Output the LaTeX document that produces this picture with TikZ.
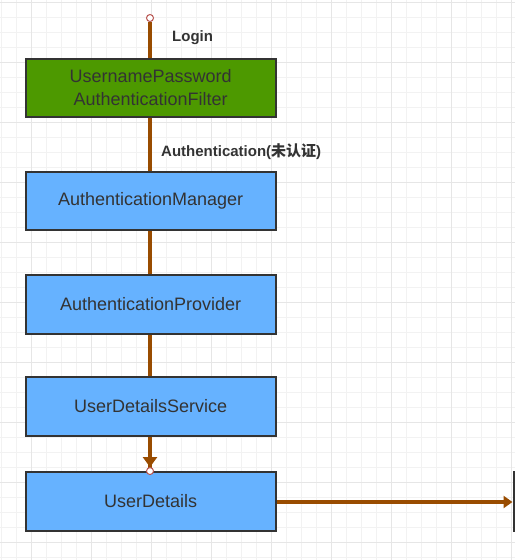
\documentclass[tikz,border=0pt]{standalone}
\usepackage{fontspec}
\setmainfont{Liberation Sans}
\newfontfamily\cjk{Noto Sans CJK SC}
\usetikzlibrary{arrows.meta}
\definecolor{gridminor}{HTML}{F2F2F2}
\definecolor{gridmajor}{HTML}{E6E6E6}
\definecolor{filtergreen}{HTML}{4D9900}
\definecolor{boxblue}{HTML}{66B2FF}
\definecolor{boxborder}{HTML}{333333}
\definecolor{flowbrown}{HTML}{994C00}
\definecolor{endred}{HTML}{B85450}
\begin{document}
\begin{tikzpicture}[x=1pt, y=-1pt,
        box/.style={draw=boxborder, line width=2pt, minimum width=250pt, minimum height=58.5pt,
            inner sep=0pt, align=center, text=boxborder, font=\fontsize{18}{23}\selectfont},
        bluebox/.style={box, fill=boxblue},
        greenbox/.style={box, fill=filtergreen},
        flow/.style={draw=flowbrown, line width=4.5pt},
        lbl/.style={anchor=west, inner sep=0pt, text=boxborder, font=\fontsize{15}{18}\selectfont\bfseries}]
        \useasboundingbox (0,0) rectangle (515,560);

        % grid
        \foreach \gx in {1.7,16.7,...,515} \draw[gridminor, line width=1pt] (\gx,0) -- (\gx,560);
        \foreach \gy in {2,17,...,560} \draw[gridminor, line width=1pt] (0,\gy) -- (515,\gy);
        \foreach \gx in {31.7,91.7,...,515} \draw[gridmajor, line width=1pt] (\gx,0) -- (\gx,560);
        \foreach \gy in {2,62,...,560} \draw[gridmajor, line width=1pt] (0,\gy) -- (515,\gy);

        % nodes
        \node (filter) [greenbox] at (150.7,88) {UsernamePassword\\AuthenticationFilter};
        \node (manager) [bluebox] at (150.7,201.2) {AuthenticationManager};
        \node (provider) [bluebox] at (150.7,304.4) {AuthenticationProvider};
        \node (service) [bluebox] at (150.7,406.4) {UserDetailsService};
        \node (details) [bluebox] at (150.7,501.3) {UserDetails};
        \coordinate (login) at (150,14);
        \coordinate (out) at (512.5,502);

        % edges
        \draw[flow, {Circle[open, length=8pt, width=8pt, color=endred, fill=white, line width=1pt]}-] (login) -- (login |- filter.north);
        \draw[flow] (filter.south -| login) -- (manager.north -| login);
        \draw[flow] (manager.south -| login) -- (provider.north -| login);
        \draw[flow] (provider.south -| login) -- (service.north -| login);
        \draw[flow, -{Triangle[width=14pt, length=10pt] Circle[open, length=8pt, width=8pt, color=endred, fill=white, line width=1pt]}] (service.south -| login) -- ([yshift=-4pt]details.north -| login);
        \draw[flow, -{Triangle[width=12pt, length=9pt]}] (details.east |- out) -- (out);
        \draw[boxborder, line width=2pt] (514.3,471) -- (514.3,532);

        % label
        \node (loginlbl) [lbl] at (172,38) {Login};
        \node (authlbl) [lbl] at (161,152) {Authentication({\cjk 未认证})};
    \end{tikzpicture}
\end{document}
